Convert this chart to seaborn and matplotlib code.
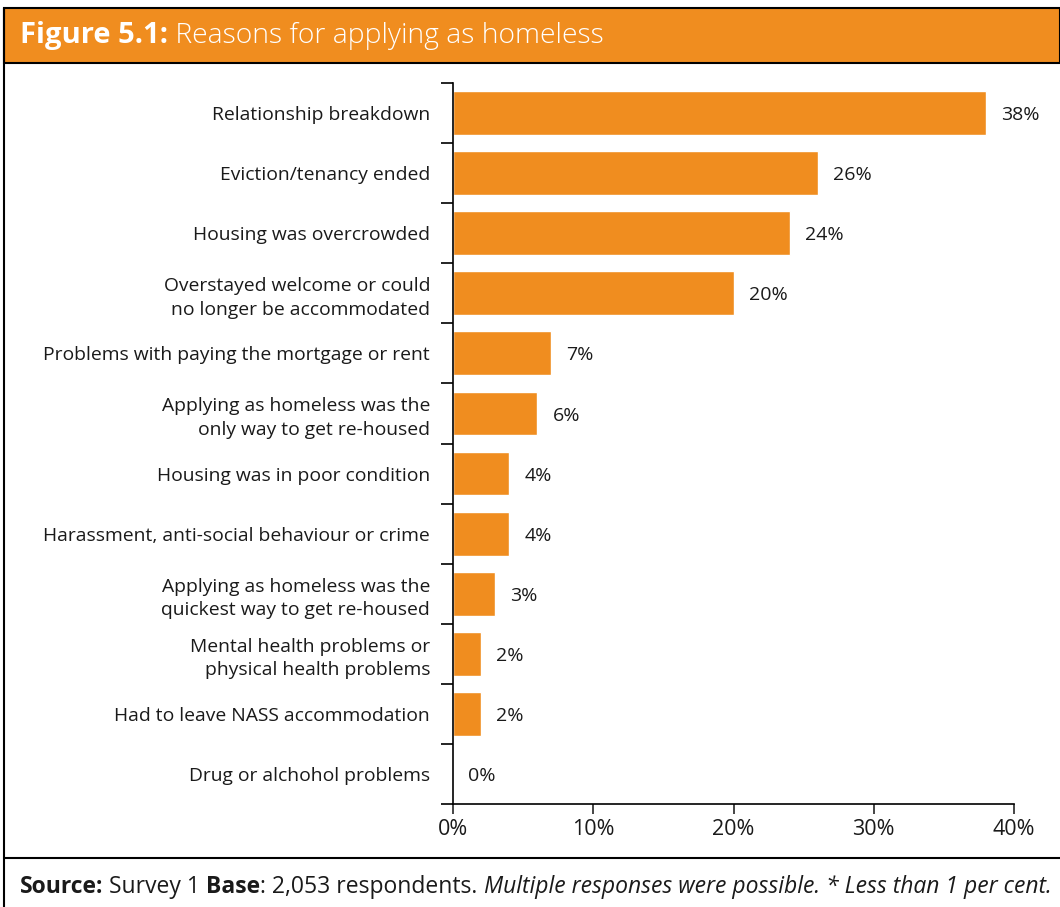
import matplotlib
matplotlib.use('Agg')
import matplotlib.pyplot as plt
import seaborn as sns
import pandas as pd
from matplotlib.patches import Rectangle
from matplotlib.lines import Line2D
from matplotlib.text import Annotation
from matplotlib.ticker import FuncFormatter

reasons = [
    'Relationship breakdown',
    'Eviction/tenancy ended',
    'Housing was overcrowded',
    'Overstayed welcome or could\nno longer be accommodated',
    'Problems with paying the mortgage or rent',
    'Applying as homeless was the\nonly way to get re-housed',
    'Housing was in poor condition',
    'Harassment, anti-social behaviour or crime',
    'Applying as homeless was the\nquickest way to get re-housed',
    'Mental health problems or\nphysical health problems',
    'Had to leave NASS accommodation',
    'Drug or alchohol problems',
]
percent = [38, 26, 24, 20, 7, 6, 4, 4, 3, 2, 2, 0]
x_ticks = [0, 10, 20, 30, 40]

orange = '#F08D1F'
text_col = '#1a1a1a'

sns.set_style('ticks')
plt.rcParams['font.family'] = ['Open Sans', 'DejaVu Sans']

df = pd.DataFrame({'reason': reasons, 'pct': percent})

W, H = 1060, 907
fig = plt.figure(figsize=(W / 100, H / 100), dpi=100)

# frame and title bar
fig.patches.append(Rectangle((4 / W, 1 - 63 / H), 1 - 4 / W, 55 / H,
                             transform=fig.transFigure, facecolor=orange,
                             edgecolor='black', linewidth=1.5))
fig.lines.append(Line2D([4 / W, 4 / W], [0, 1 - 8 / H], transform=fig.transFigure,
                        color='black', linewidth=1.5))
fig.lines.append(Line2D([4 / W, 1], [1 - 858 / H, 1 - 858 / H], transform=fig.transFigure,
                        color='black', linewidth=1.5))

ax = fig.add_axes([453 / W, 1 - 804 / H, (1014 - 453) / W, (804 - 83) / H])
sns.barplot(data=df, x='pct', y='reason', orient='h', color=orange, saturation=1,
            width=0.73, ax=ax)
ax.set_xlim(0, 40)
ax.set_ylim(len(reasons) - 0.5, -0.5)
ax.set_xlabel('')
ax.set_ylabel('')
ax.set_xticks(x_ticks)
ax.xaxis.set_major_formatter(FuncFormatter(lambda v, p: f'{int(v)}%'))
ax.set_yticks([i - 0.5 for i in range(len(reasons) + 1)], minor=True)
ax.tick_params(axis='y', which='major', length=0, pad=16.5, labelsize=13.9, labelcolor=text_col)
ax.tick_params(axis='y', which='minor', length=9, width=1.2, color='black')
ax.tick_params(axis='x', length=7, width=1.2, pad=4, labelsize=15.5, labelcolor=text_col)
for lab in ax.get_yticklabels():
    lab.set_linespacing(1.4)
sns.despine(ax=ax)
for s in ['left', 'bottom']:
    ax.spines[s].set_linewidth(1.2)
    ax.spines[s].set_color('black')

for i, v in enumerate(percent):
    ax.annotate(f'{v}%', xy=(v, i), xytext=(11, -1.5), textcoords='offset points',
                va='center', ha='left', fontsize=14, color=text_col)


def chain(prev, txt, **kw):
    # place a text piece right after the previous one, on the same baseline
    a = Annotation(txt, xy=(1, 0), xycoords=prev, va='bottom', ha='left',
                   annotation_clip=False, zorder=5, **kw)
    fig.add_artist(a)
    return a


# title with bold lead-in
t1 = fig.text(20 / W, 1 - 36 / H, 'Figure 5.1:', color='white', fontsize=21,
              fontweight='bold', va='center', ha='left', zorder=5)
chain(t1, ' Reasons for applying as homeless', color='white', fontsize=20.3,
      fontweight='light')

# footer with mixed styles
fs = 16.5
parts = [('Source:', 'bold', 'normal'), (' Survey 1 ', 'normal', 'normal'),
         ('Base', 'bold', 'normal'), (': 2,053 respondents. ', 'normal', 'normal'),
         ('Multiple responses were possible. * Less than 1 per cent.', 'normal', 'italic')]
last = fig.text(20 / W, 1 - 887 / H, parts[0][0], fontweight=parts[0][1], fontstyle=parts[0][2],
                fontsize=fs, va='center', ha='left', color=text_col)
for txt, w, st in parts[1:]:
    last = chain(last, txt, fontsize=fs, fontweight=w, fontstyle=st, color=text_col)

fig.savefig('out.png', dpi=100)
